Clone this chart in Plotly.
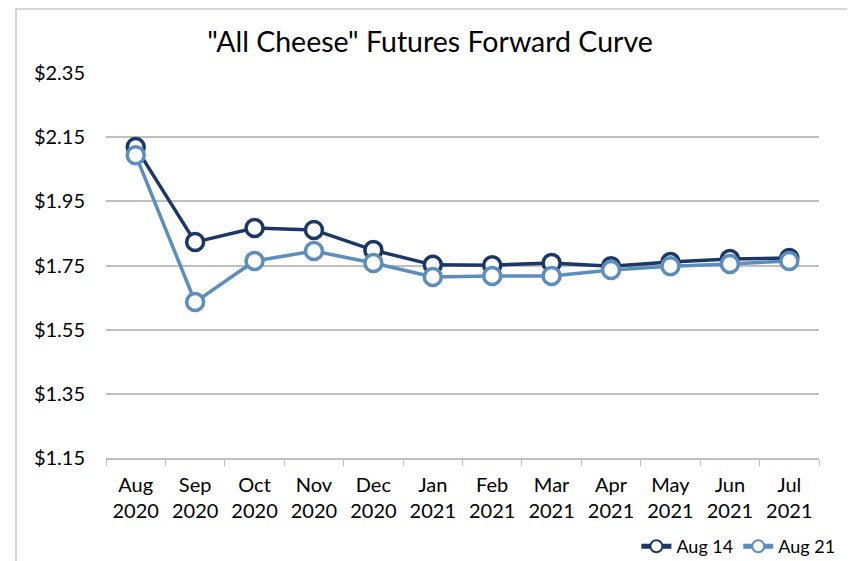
"""Forward curve of "All Cheese" futures, two settlement dates."""
import plotly.graph_objects as go

# ---------------------------------------------------------------------------
# Data
# ---------------------------------------------------------------------------
MONTHS = [
    "Aug<br>2020", "Sep<br>2020", "Oct<br>2020", "Nov<br>2020", "Dec<br>2020",
    "Jan<br>2021", "Feb<br>2021", "Mar<br>2021", "Apr<br>2021", "May<br>2021",
    "Jun<br>2021", "Jul<br>2021",
]
AUG_14 = [2.119, 1.823, 1.867, 1.861, 1.798, 1.752, 1.751, 1.758, 1.748, 1.761, 1.770, 1.773]
AUG_21 = [2.094, 1.636, 1.764, 1.795, 1.758, 1.714, 1.717, 1.717, 1.736, 1.748, 1.755, 1.764]
Y_TICKS = [1.15, 1.35, 1.55, 1.75, 1.95, 2.15, 2.35]
Y_LABELS = [f"${v:.2f}" for v in Y_TICKS]

DARK = "#1b3766"
LIGHT = "#5b8dbd"
FONT = "Lato, 'Open Sans', sans-serif"

# page body adds an 8px offset, so the figure is 8px smaller each way
W, H = 847, 553

fig = go.Figure()
for name, vals, colour in [("Aug 14", AUG_14, DARK), ("Aug 21", AUG_21, LIGHT)]:
    fig.add_trace(go.Scatter(
        x=MONTHS, y=vals, name=name, mode="lines+markers",
        line=dict(color=colour, width=3.5),
        marker=dict(symbol="circle", size=17, color="white",
                    line=dict(color=colour, width=3.5)),
    ))

# outer chart border (Excel style)
fig.add_shape(type="rect", xref="paper", yref="paper",
              x0=-0.1262, x1=1.0477, y0=-0.4, y1=1.1662,
              line=dict(color="#c9c9c9", width=1.5), layer="below")

fig.update_layout(
    width=W, height=H,
    margin=dict(l=98, r=36, t=65, b=103, autoexpand=False),
    paper_bgcolor="white", plot_bgcolor="white",
    font=dict(family=FONT, color="#000000", size=20),
    title=dict(text='"All Cheese" Futures Forward Curve',
               x=422 / W, xanchor="center", y=1 - 34 / H, yanchor="middle",
               font=dict(size=28.5, family=FONT, color="#000000")),
    showlegend=True,
    legend=dict(orientation="h", x=1.03, xanchor="right", y=-0.23, yanchor="middle",
                font=dict(size=18), itemwidth=30, tracegroupgap=0,
                itemsizing="constant", bgcolor="rgba(0,0,0,0)"),
)
fig.update_xaxes(
    type="category", range=[-0.5, len(MONTHS) - 0.5], autorange=False,
    showgrid=False, showline=True, linecolor="#bfbfbf", linewidth=1.5,
    ticks="outside", tickson="boundaries", ticklen=6, tickcolor="#bfbfbf",
    ticklabelstandoff=8, tickfont=dict(size=20), zeroline=False, automargin=False,
)
fig.update_yaxes(
    range=[1.15, 2.35], tickvals=Y_TICKS, ticktext=Y_LABELS,
    showgrid=True, gridcolor="#bfbfbf", gridwidth=1.5, zeroline=False,
    showline=False, ticks="", ticklabelstandoff=20, tickfont=dict(size=20),
    automargin=False,
)

fig.write_html("out.html")
